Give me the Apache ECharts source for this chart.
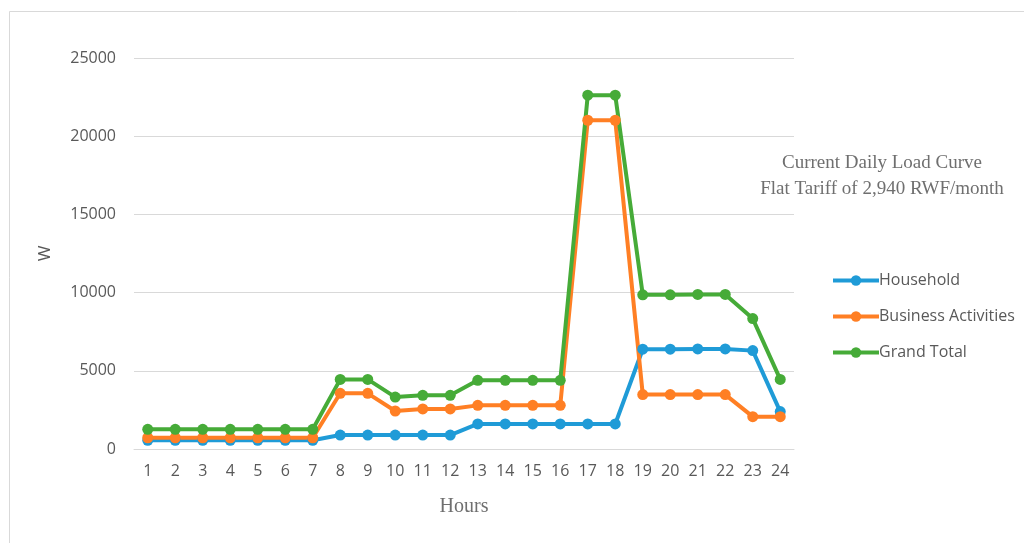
<!DOCTYPE html>
<html>
<head>
<meta charset="utf-8">
<script src="https://cdn.jsdelivr.net/npm/echarts@6/dist/echarts.min.js"></script>
<style>html,body{margin:0;padding:0;background:#fff}#c{width:1024px;height:543px}</style>
</head>
<body>
<div id="c"></div>
<script>
var hours = ['1','2','3','4','5','6','7','8','9','10','11','12','13','14','15','16','17','18','19','20','21','22','23','24'];
var household = [560,560,560,560,560,560,560,890,890,890,890,890,1600,1600,1600,1600,1600,1600,6380,6380,6400,6400,6290,2390];
var business = [720,720,720,720,720,720,720,3560,3560,2430,2560,2560,2790,2790,2790,2790,21020,21020,3480,3480,3480,3480,2070,2070];
var grandTotal = [1260,1260,1260,1260,1260,1260,1260,4450,4450,3320,3430,3430,4390,4390,4390,4390,22620,22620,9860,9860,9880,9880,8340,4450];
var yTicks = [0, 5000, 10000, 15000, 20000, 25000];
var titleLines = ['Current Daily Load Curve', 'Flat Tariff of 2,940 RWF/month'];

var chart = echarts.init(document.getElementById('c'), null, {renderer: 'canvas'});
function mk(name, data, color) {
  return {
    name: name, type: 'line', data: data,
    symbol: 'circle', symbolSize: 11,
    lineStyle: {width: 4, color: color},
    itemStyle: {color: color},
    emphasis: {disabled: true}
  };
}
chart.setOption({
  animation: false,
  backgroundColor: '#fff',
  color: ['#1f9bd7', '#ff7f24', '#46ab38'],
  title: {
    text: titleLines.join('\n'),
    left: 877, top: 145, textAlign: 'center',
    textStyle: {fontFamily: 'Liberation Serif', fontWeight: 'normal', fontSize: 19, color: '#6f6f6f', lineHeight: 26, align: 'center'}
  },
  legend: {
    orient: 'vertical', left: 826, top: 264,
    itemWidth: 46, itemHeight: 13, itemGap: 13,
    lineStyle: {width: 4},
    textStyle: {fontFamily: 'Open Sans', fontSize: 16, color: '#595959', padding: [0,0,0,-5], lineHeight: 23},
    data: ['Household', 'Business Activities', 'Grand Total']
  },
  graphic: [{
    type: 'rect', shape: {x: 9.5, y: 11.5, width: 1030, height: 560},
    style: {fill: 'none', stroke: '#d9d9d9', lineWidth: 1}, silent: true, z: -1
  }],
  grid: {left: 134, right: 230, top: 58, bottom: 94},
  xAxis: {
    type: 'category', data: hours, boundaryGap: true,
    name: 'Hours', nameLocation: 'middle', nameGap: 48,
    nameTextStyle: {fontFamily: 'Liberation Serif', fontSize: 20, color: '#6f6f6f'},
    axisLine: {lineStyle: {color: '#d9d9d9', width: 1}},
    axisTick: {show: false},
    axisLabel: {fontFamily: 'Open Sans', fontSize: 16, color: '#595959', margin: 14, interval: 0}
  },
  yAxis: {
    type: 'value', min: yTicks[0], max: yTicks[yTicks.length-1], interval: 5000,
    name: 'W', nameLocation: 'middle', nameGap: 80, nameRotate: 90,
    nameTextStyle: {fontFamily: 'Open Sans', fontSize: 17, color: '#595959'},
    axisLine: {show: false}, axisTick: {show: false},
    axisLabel: {fontFamily: 'Open Sans', fontSize: 16, color: '#595959', margin: 18, formatter: function (v) { return String(v); }},
    splitLine: {lineStyle: {color: '#d9d9d9', width: 1}}
  },
  series: [
    mk('Household', household, '#1f9bd7'),
    mk('Business Activities', business, '#ff7f24'),
    mk('Grand Total', grandTotal, '#46ab38')
  ]
});
</script>
</body>
</html>
